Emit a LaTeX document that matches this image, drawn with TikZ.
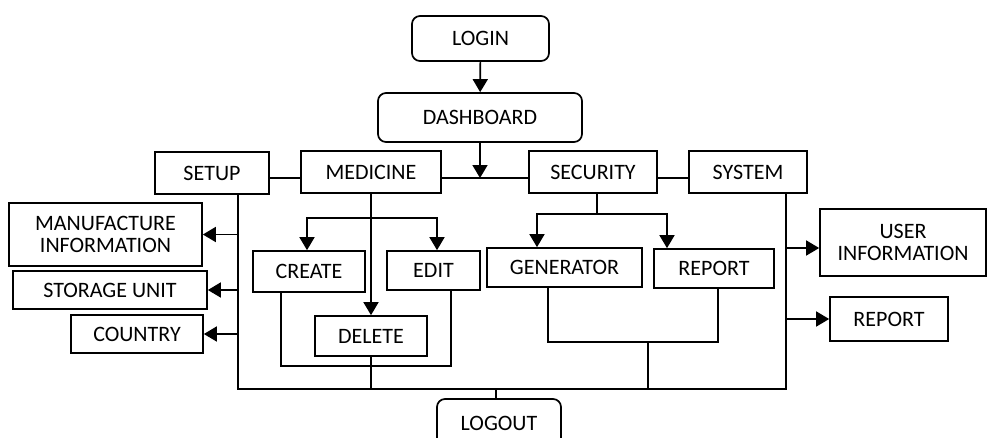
\documentclass[tikz,border=0pt]{standalone}
\usepackage{fontspec}
\setmainfont{Carlito}
\usetikzlibrary{arrows.meta}
\begin{document}
\begin{tikzpicture}[x=1pt, y=-1pt,
  box/.style={draw, align=center, inner sep=1pt},
  rbox/.style={box, rounded corners=8pt},
  arr/.style={-{Triangle[length=13pt,width=15pt]}},
  every node/.style={font=\fontsize{22}{22.5}\selectfont},
  line width=1.7pt
]
\useasboundingbox (0,0) rectangle (987,437);
\node[rbox, minimum width=137pt, minimum height=45pt] (login) at (480.5,38.5) {LOGIN};
\node[rbox, minimum width=204pt, minimum height=49pt] (dash) at (480,117.5) {DASHBOARD};
\node[box, minimum width=114pt, minimum height=42pt] (setup) at (212,173) {SETUP};
\node[box, minimum width=140pt, minimum height=42pt] (med) at (371,172) {MEDICINE};
\node[box, minimum width=128pt, minimum height=42pt] (sec) at (593,172) {SECURITY};
\node[box, minimum width=118pt, minimum height=42pt] (sys) at (748,172) {SYSTEM};
\node[box, minimum width=193pt, minimum height=63pt] (manu) at (105.5,234.5) {MANUFACTURE\\INFORMATION};
\node[box, minimum width=194pt, minimum height=38pt] (store) at (110,290) {STORAGE UNIT};
\node[box, minimum width=132pt, minimum height=38pt] (country) at (137,334) {COUNTRY};
\node[box, minimum width=112pt, minimum height=41pt] (create) at (309,271.5) {CREATE};
\node[box, minimum width=93pt, minimum height=39pt] (edit) at (433.5,270.5) {EDIT};
\node[box, minimum width=112pt, minimum height=40pt] (delete) at (371,336) {DELETE};
\node[box, minimum width=155pt, minimum height=39pt] (gen) at (564.5,267.5) {GENERATOR};
\node[box, minimum width=120pt, minimum height=39pt] (secrep) at (714,268.5) {REPORT};
\node[box, minimum width=166pt, minimum height=67pt] (user) at (903,242.5) {USER\\INFORMATION};
\node[box, minimum width=118pt, minimum height=44pt] (sysrep) at (889,319) {REPORT};
\node[rbox, minimum width=124pt, minimum height=48pt] (logout) at (499,423) {LOGOUT};
\coordinate (j) at (480,178);
\coordinate (bl) at (238,389);
\coordinate (br) at (786,389);
\coordinate (mb) at (371,218);
\coordinate (mj) at (371,366);
\coordinate (sb) at (597,214);
\coordinate (sj) at (648,342);
\coordinate (lj) at (496,389);
\coordinate (ua) at ([yshift=-5.5pt]user.west);
\draw[arr] (login) -- (dash);
\draw[arr] (dash.south -| j) -- (j);
\draw (setup.east |- j) -- (med.west |- j);
\draw (med.east |- j) -- (sec.west |- j);
\draw (sec.east |- j) -- (sys.west |- j);
\draw (setup.south -| bl) -- (bl) -- (br) -- (sys.south -| br);
\draw[arr] (bl |- manu.east) -- (manu.east);
\draw[arr] (bl |- store.east) -- (store.east);
\draw[arr] (bl |- country.east) -- (country.east);
\draw[arr] (br |- ua) -- (ua);
\draw[arr] (br |- sysrep.west) -- (sysrep.west);
\draw[arr] (med) -- (delete);
\draw[arr] (mb) -| ([xshift=-2pt]create.north);
\draw[arr] (mb) -| ([xshift=3.5pt]edit.north);
\draw ([xshift=-28pt]create.south) |- (mj) -| ([xshift=17.5pt]edit.south);
\draw (delete) -- (delete.south |- bl);
\draw (sec.south -| sb) -- (sb);
\draw[arr] (sb) -| ([xshift=-27.5pt]gen.north);
\draw[arr] (sb) -| ([xshift=-47pt]secrep.north);
\draw ([xshift=-16.5pt]gen.south) |- (sj) -| ([xshift=4pt]secrep.south);
\draw (sj) -- (sj |- bl);
\draw (lj |- logout.north) -- (lj);
\end{tikzpicture}
\end{document}
